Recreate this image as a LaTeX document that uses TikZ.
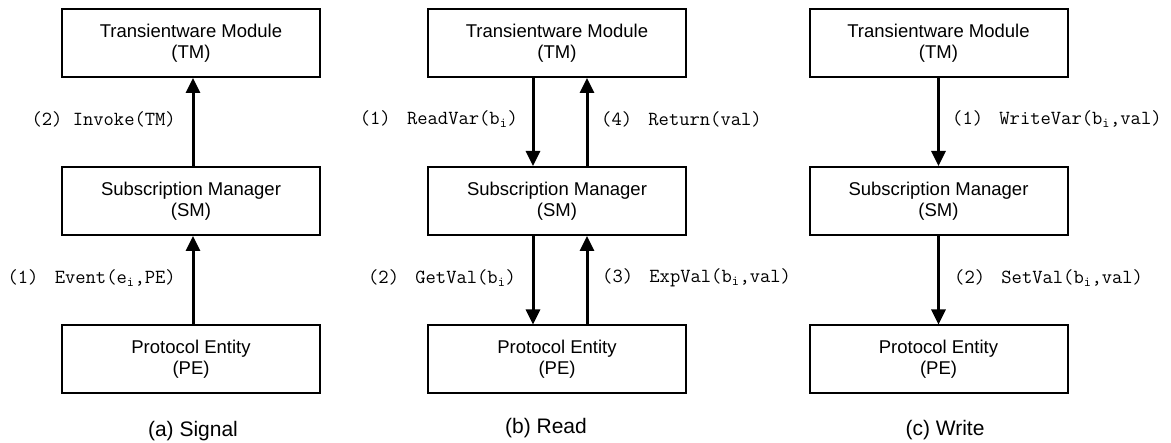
\documentclass[tikz,border=0pt]{standalone}
\usepackage{fontspec}
\setmainfont{Liberation Sans}
\usetikzlibrary{arrows.meta}
\newcommand{\gap}{\ \hspace{6pt}}
\begin{document}
\begin{tikzpicture}[x=1pt,y=-1pt,
  block/.style={draw, line width=2pt, rectangle, inner sep=0pt,
    minimum width=258pt, minimum height=68pt, align=center,
    font=\fontsize{18.5}{21}\selectfont},
  msg/.style={font=\fontsize{20}{22}\ttfamily, inner sep=0pt},
  arr/.style={line width=3pt, -{Triangle[length=15pt,width=14pt]}},
  caption/.style={font=\fontsize{21}{24}\selectfont, inner sep=0pt}]
\useasboundingbox (0,0) rectangle (1171,443);

% (a) Signal
\node[block] (tma) at (191,43) {Transientware Module\\(TM)};
\node[block] (sma) at (191,201) {Subscription Manager\\(SM)};
\node[block] (pea) at (191,359.5) {Protocol Entity\\(PE)};
\draw[arr] ([xshift=2pt]pea.north) -- ([xshift=2pt]sma.south);
\draw[arr] ([xshift=2pt]sma.north) -- ([xshift=2pt]tma.south);
\node[msg, anchor=east] (la2) at (176,119) {(2) Invoke(TM)};
\node[msg, anchor=east] (la1) at (176,278) {(1)\gap Event(e\textsubscript{i},PE)};
\node[caption] (capa) at (193,431) {(a) Signal};

% (b) Read
\node[block] (tmb) at (557,43) {Transientware Module\\(TM)};
\node[block] (smb) at (557,201) {Subscription Manager\\(SM)};
\node[block] (peb) at (557,359.5) {Protocol Entity\\(PE)};
\draw[arr] ([xshift=-24pt]tmb.south) -- ([xshift=-24pt]smb.north);
\draw[arr] ([xshift=30pt]smb.north) -- ([xshift=30pt]tmb.south);
\draw[arr] ([xshift=-24pt]smb.south) -- ([xshift=-24pt]peb.north);
\draw[arr] ([xshift=30pt]peb.north) -- ([xshift=30pt]smb.south);
\node[msg, anchor=east] (lb1) at (518,119) {(1)\gap ReadVar(b\textsubscript{i})};
\node[msg, anchor=west] (lb4) at (601,119) {(4)\gap Return(val)};
\node[msg, anchor=east] (lb2) at (516,278) {(2)\gap GetVal(b\textsubscript{i})};
\node[msg, anchor=west] (lb3) at (602,278) {(3)\gap ExpVal(b\textsubscript{i},val)};
\node[caption] (capb) at (546,428) {(b) Read};

% (c) Write
\node[block] (tmc) at (938.5,43) {Transientware Module\\(TM)};
\node[block] (smc) at (938.5,201) {Subscription Manager\\(SM)};
\node[block] (pec) at (938.5,359.5) {Protocol Entity\\(PE)};
\draw[arr] (tmc.south) -- (smc.north);
\draw[arr] (smc.south) -- (pec.north);
\node[msg, anchor=west] (lc1) at (952,119) {(1)\gap WriteVar(b\textsubscript{i},val)};
\node[msg, anchor=west] (lc2) at (954,278) {(2)\gap SetVal(b\textsubscript{i},val)};
\node[caption] (capc) at (945,430) {(c) Write};
\end{tikzpicture}
\end{document}
